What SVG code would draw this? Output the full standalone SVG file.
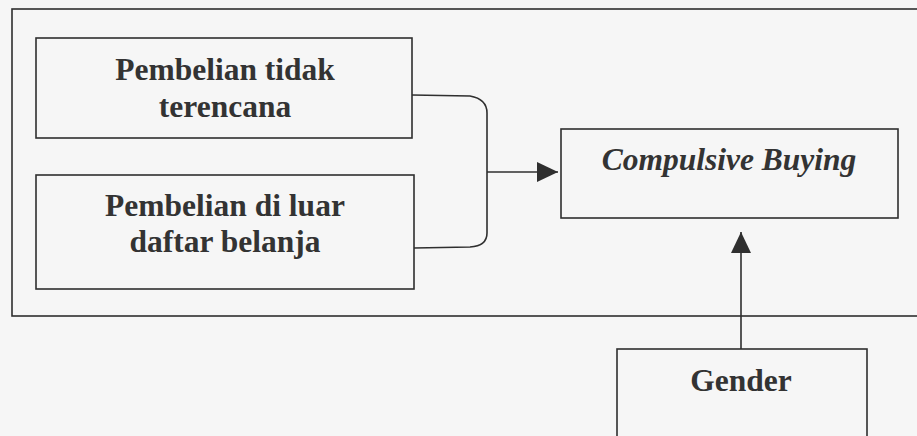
<svg xmlns="http://www.w3.org/2000/svg" width="917" height="436" viewBox="0 0 917 436">
<defs>
<style>
.box{fill:none;stroke:#2f2f2f;stroke-width:1.6}
.ln{fill:none;stroke:#2f2f2f;stroke-width:1.6}
.t{font-family:"Liberation Serif","Times New Roman",serif;font-weight:bold;font-size:31.5px;fill:#333;text-anchor:middle}
.it{font-style:italic}
</style>
<marker id="ah" viewBox="0 0 21 20" refX="21" refY="10" markerWidth="21" markerHeight="20" markerUnits="userSpaceOnUse" orient="auto">
<path d="M0,0 L21,10 L0,20 Z" fill="#2f2f2f"/>
</marker>
</defs>
<rect width="917" height="436" fill="#f6f6f6"/>
<rect id="frame" class="box" x="12" y="9" width="915" height="307"/>
<g id="node-pembelian-tidak-terencana">
<rect class="box" x="36" y="38" width="376" height="100"/>
<text class="t" x="225" y="80">Pembelian tidak</text>
<text class="t" x="225" y="117">terencana</text>
</g>
<g id="node-pembelian-di-luar">
<rect class="box" x="36" y="175" width="378" height="114"/>
<text class="t" x="225" y="216">Pembelian di luar</text>
<text class="t" x="225" y="252">daftar belanja</text>
</g>
<g id="node-compulsive-buying">
<rect class="box" x="561" y="129" width="337" height="89"/>
<text class="t it" x="729" y="170">Compulsive Buying</text>
</g>
<g id="node-gender">
<rect class="box" x="617" y="349" width="250" height="100"/>
<text class="t" x="741" y="391">Gender</text>
</g>
<g id="connectors">
<path class="ln" d="M412,95 L470,96 Q487,99 487,113 L487,233 Q487,246 470,247 L414,248"/>
<path class="ln" d="M487,172 L558,172" marker-end="url(#ah)"/>
<path class="ln" d="M741,349 L741,232" marker-end="url(#ah)"/>
</g>
</svg>
